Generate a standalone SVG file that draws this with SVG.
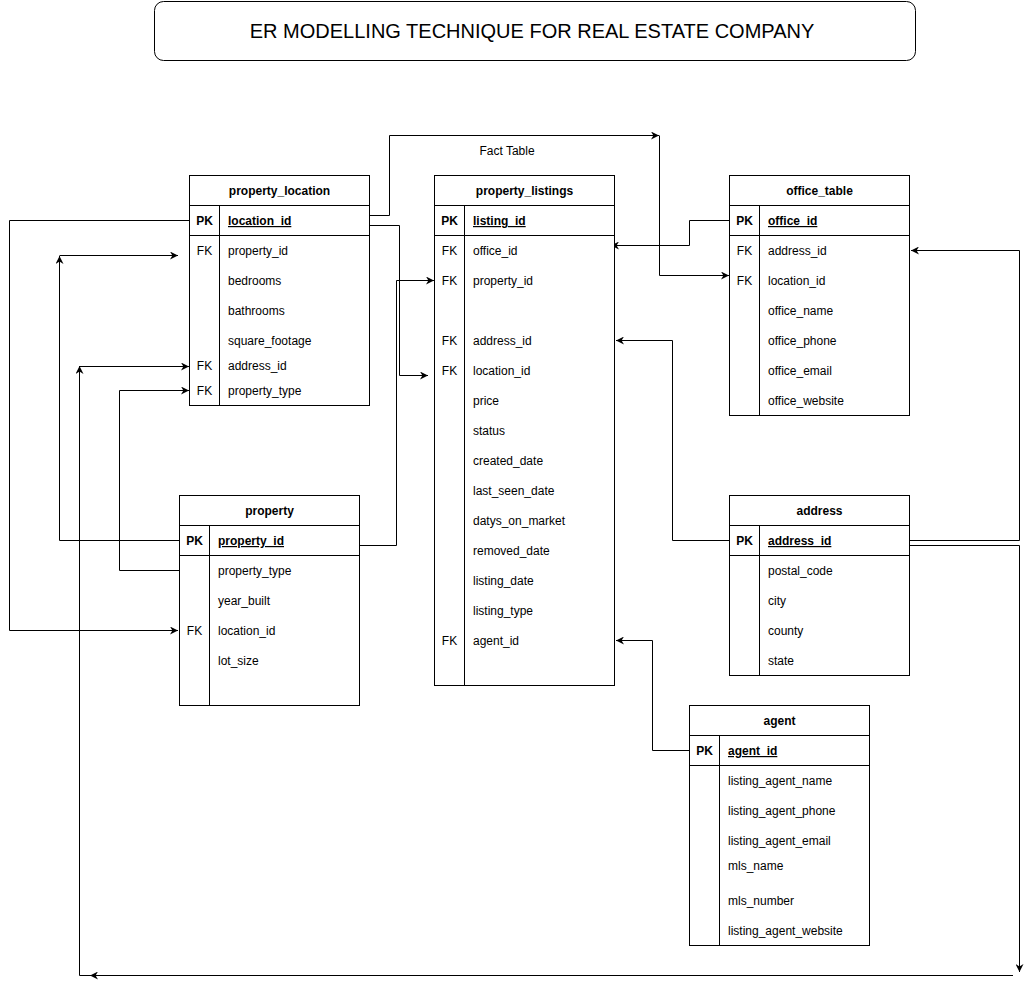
<svg xmlns="http://www.w3.org/2000/svg" width="1031" height="986" viewBox="0 0 1031 986">
<style>
text{font-family:"Liberation Sans",Arial,Helvetica,sans-serif;font-size:12px;fill:#000}
.h{font-weight:bold;text-anchor:middle}
.k{text-anchor:middle}
.pk{font-weight:bold;text-decoration:underline}
.b{font-weight:bold}
.box{fill:#fff;stroke:#000;stroke-width:1}
.ln{stroke:#000;stroke-width:1;fill:none}
.c{stroke:#000;stroke-width:1;fill:none;marker-end:url(#arr)}
.cn{stroke:#000;stroke-width:1;fill:none}
.title{font-size:20px;text-anchor:middle}
</style>
<defs>
<marker id="arr" viewBox="0 0 10 10" refX="10" refY="5" markerWidth="9" markerHeight="8" markerUnits="userSpaceOnUse" orient="auto">
<path d="M0,0 L10,5 L0,10 L3,5 z" fill="#000"/>
</marker>
</defs>
<rect width="1031" height="986" fill="#fff"/>

<g id="title">
<rect x="154.5" y="1.5" width="761" height="59" rx="9" ry="9" class="box"/>
<text x="532" y="38" class="title">ER MODELLING TECHNIQUE FOR REAL ESTATE COMPANY</text>
</g>

<g id="fact-label">
<text x="507" y="155" class="k">Fact Table</text>
</g>

<g id="connectors">
<path class="c" d="M370,215.5 H389.5 V135.5 H659"/>
<path class="c" d="M659.5,135.5 V275.5 H729"/>
<path class="c" d="M370,225.5 H399.5 V375.5 H428"/>
<path class="c" d="M360,545.5 H396.5 V280.5 H434"/>
<path class="c" d="M730,220.5 H689.5 V245.5 H611"/>
<path class="c" d="M730,540.5 H672.5 V340.5 H616"/>
<path class="c" d="M910,540.5 H1019.5 V250.5 H911"/>
<path class="c" d="M910,545.5 H1019.5 V972"/>
<path class="c" d="M1013,975.5 H90"/>
<path class="cn" d="M90,975.5 H79.5 V372"/>
<path class="c" d="M79.5,378 V366"/>
<path class="c" d="M79.5,366.5 H189"/>
<path class="cn" d="M180,540.5 H59.5 V262"/>
<path class="c" d="M59.5,268 V256"/>
<path class="c" d="M59.5,255.5 H178"/>
<path class="c" d="M180,570.5 H119.5 V390.5 H189"/>
<path class="c" d="M190,220.5 H9.5 V630.5 H178"/>
<path class="c" d="M690,750.5 H652.5 V640.5 H616"/>
</g>

<g id="property_location">
<rect x="189.5" y="175.5" width="180" height="230" class="box"/>
<path class="ln" d="M189.5,205.5 H369.5 M189.5,235.5 H369.5 M219.5,205.5 V405.5"/>
<text x="279.5" y="195" class="h">property_location</text>
<text x="204.5" y="225" class="k b">PK</text>
<text x="228" y="225" class="pk">location_id</text>
<text x="204.5" y="255" class="k">FK</text>
<text x="228" y="255">property_id</text>
<text x="228" y="285">bedrooms</text>
<text x="228" y="315">bathrooms</text>
<text x="228" y="345">square_footage</text>
<text x="204.5" y="370" class="k">FK</text>
<text x="228" y="370">address_id</text>
<text x="204.5" y="395" class="k">FK</text>
<text x="228" y="395">property_type</text>
</g>

<g id="property_listings">
<rect x="434.5" y="175.5" width="180" height="510" class="box"/>
<path class="ln" d="M434.5,205.5 H614.5 M434.5,235.5 H614.5 M464.5,205.5 V685.5"/>
<text x="524.5" y="195" class="h">property_listings</text>
<text x="449.5" y="225" class="k b">PK</text>
<text x="473" y="225" class="pk">listing_id</text>
<text x="449.5" y="255" class="k">FK</text>
<text x="473" y="255">office_id</text>
<text x="449.5" y="285" class="k">FK</text>
<text x="473" y="285">property_id</text>
<text x="449.5" y="345" class="k">FK</text>
<text x="473" y="345">address_id</text>
<text x="449.5" y="375" class="k">FK</text>
<text x="473" y="375">location_id</text>
<text x="473" y="405">price</text>
<text x="473" y="435">status</text>
<text x="473" y="465">created_date</text>
<text x="473" y="495">last_seen_date</text>
<text x="473" y="525">datys_on_market</text>
<text x="473" y="555">removed_date</text>
<text x="473" y="585">listing_date</text>
<text x="473" y="615">listing_type</text>
<text x="449.5" y="645" class="k">FK</text>
<text x="473" y="645">agent_id</text>
</g>

<g id="office_table">
<rect x="729.5" y="175.5" width="180" height="240" class="box"/>
<path class="ln" d="M729.5,205.5 H909.5 M729.5,235.5 H909.5 M759.5,205.5 V415.5"/>
<text x="819.5" y="195" class="h">office_table</text>
<text x="744.5" y="225" class="k b">PK</text>
<text x="768" y="225" class="pk">office_id</text>
<text x="744.5" y="255" class="k">FK</text>
<text x="768" y="255">address_id</text>
<text x="744.5" y="285" class="k">FK</text>
<text x="768" y="285">location_id</text>
<text x="768" y="315">office_name</text>
<text x="768" y="345">office_phone</text>
<text x="768" y="375">office_email</text>
<text x="768" y="405">office_website</text>
</g>

<g id="property">
<rect x="179.5" y="495.5" width="180" height="210" class="box"/>
<path class="ln" d="M179.5,525.5 H359.5 M179.5,555.5 H359.5 M209.5,525.5 V705.5"/>
<text x="269.5" y="515" class="h">property</text>
<text x="194.5" y="545" class="k b">PK</text>
<text x="218" y="545" class="pk">property_id</text>
<text x="218" y="575">property_type</text>
<text x="218" y="605">year_built</text>
<text x="194.5" y="635" class="k">FK</text>
<text x="218" y="635">location_id</text>
<text x="218" y="665">lot_size</text>
</g>

<g id="address">
<rect x="729.5" y="495.5" width="180" height="180" class="box"/>
<path class="ln" d="M729.5,525.5 H909.5 M729.5,555.5 H909.5 M759.5,525.5 V675.5"/>
<text x="819.5" y="515" class="h">address</text>
<text x="744.5" y="545" class="k b">PK</text>
<text x="768" y="545" class="pk">address_id </text>
<text x="768" y="575">postal_code</text>
<text x="768" y="605">city</text>
<text x="768" y="635">county</text>
<text x="768" y="665">state</text>
</g>

<g id="agent">
<rect x="689.5" y="705.5" width="180" height="240" class="box"/>
<path class="ln" d="M689.5,735.5 H869.5 M689.5,765.5 H869.5 M719.5,735.5 V945.5"/>
<text x="779.5" y="725" class="h">agent</text>
<text x="704.5" y="755" class="k b">PK</text>
<text x="728" y="755" class="pk">agent_id</text>
<text x="728" y="785">listing_agent_name</text>
<text x="728" y="815">listing_agent_phone</text>
<text x="728" y="845">listing_agent_email</text>
<text x="728" y="870">mls_name</text>
<text x="728" y="905">mls_number</text>
<text x="728" y="935">listing_agent_website</text>
</g>
</svg>
